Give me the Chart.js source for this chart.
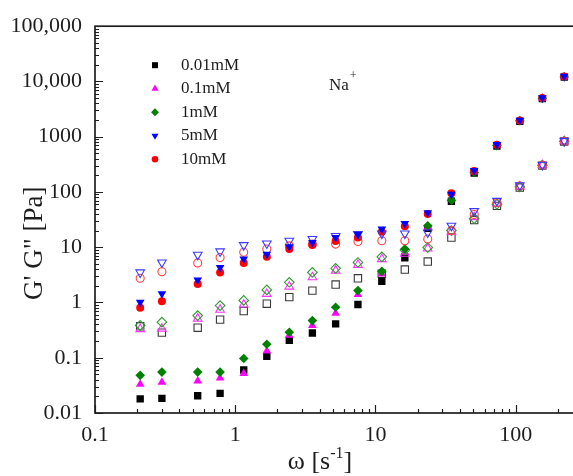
<!DOCTYPE html>
<html>
<head>
<meta charset="utf-8">
<script src="https://cdn.jsdelivr.net/npm/chart.js@4.4.1/dist/chart.umd.min.js"></script>
<style>
  html, body { margin: 0; padding: 0; background: #fff; overflow: hidden; }
  #wrap { width: 573px; height: 476px; overflow: hidden; }
  canvas { display: block; }
</style>
</head>
<body>
<div id="wrap"><canvas id="moduli" width="620" height="476"></canvas></div>
<script>
// angular frequency, s^-1
const omega = [0.21, 0.30, 0.54, 0.78, 1.15, 1.68, 2.43, 3.55, 5.2, 7.5, 11.1, 16.2, 23.6, 34.8, 50.6, 73.5, 107, 155, 222]

const concentrations = ['0.01mM', '0.1mM', '1mM', '5mM', '10mM']

// G' (storage) and G'' (loss) in Pa, one pair per NaCl concentration
const storage001 = [0.018, 0.0184, 0.0205, 0.0226, 0.060, 0.106, 0.207, 0.28, 0.41, 0.92, 2.42, 6.4, 22, 68, 220, 680, 1900, 4900, 12000]
const loss001 = [0.37, 0.285, 0.35, 0.49, 0.70, 0.95, 1.25, 1.64, 2.11, 2.74, 3.3, 3.94, 5.5, 15, 31, 56, 120, 300, 820]

const storage01 = [0.033, 0.036, 0.038, 0.043, 0.052, 0.133, 0.254, 0.385, 0.64, 1.39, 3.29, 8.1, 23, 75, 230, 700, 1950, 5000, 12200]
const loss01 = [0.33, 0.336, 0.51, 0.74, 0.92, 1.43, 1.94, 2.86, 3.77, 4.8, 6.1, 7.6, 9.5, 19, 35, 62, 126, 305, 830]

const storage1 = [0.048, 0.055, 0.055, 0.055, 0.097, 0.175, 0.29, 0.47, 0.82, 1.64, 3.66, 9.3, 24.4, 71, 225, 690, 1940, 4950, 12100]
const loss1 = [0.385, 0.44, 0.58, 0.88, 1.09, 1.69, 2.32, 3.5, 4.15, 5.3, 6.7, 8.9, 9.9, 20, 33, 60, 124, 304, 825]

const storage5 = [1.01, 1.44, 2.56, 4.3, 6.1, 7.5, 10.2, 12.2, 15, 17, 21.3, 26.8, 42, 91, 245, 720, 1980, 5050, 12400]
const loss5 = [3.5, 5.3, 7.3, 8.4, 10.9, 11.7, 13.1, 14.1, 16, 17.3, 17.7, 17.7, 18.5, 24.4, 45, 69, 132, 310, 840]

const storage10 = [0.80, 1.05, 2.17, 3.5, 5.2, 6.7, 9.3, 11, 13, 15, 19, 24, 40, 95, 240, 715, 1960, 5000, 12300]
const loss10 = [2.74, 3.6, 5.2, 6.5, 8.1, 9.3, 10.6, 11.4, 11.4, 12.7, 13.1, 13.1, 14.1, 20, 39, 64, 128, 306, 830]

const xTickValues = [0.1, 1, 10, 100]
const xTickLabels = ['0.1', '1', '10', '100']
const yTickValues = [0.01, 0.1, 1, 10, 100, 1000, 10000, 100000]
const yTickLabels = ['0.01', '0.1', '1', '10', '100', '1000', '10,000', '100,000']

const storageSets = [storage001, storage01, storage1, storage5, storage10]
const lossSets = [loss001, loss01, loss1, loss5, loss10]

// marker look per concentration; blue drawn on top, black at the bottom
const markers = [
  { color: '#000000', open: '#3a3a3a', pointStyle: 'rect', rotation: 0, radius: 5.2, order: 4 },
  { color: '#ff00ff', open: '#ff33ff', pointStyle: 'triangle', rotation: 0, radius: 5, order: 3 },
  { color: '#008000', open: '#2e9a2e', pointStyle: 'rectRot', rotation: 0, radius: 4.8, order: 2 },
  { color: '#0000ff', open: '#3a3aff', pointStyle: 'triangle', rotation: 180, radius: 5, order: 0 },
  { color: '#ff0000', open: '#ff4040', pointStyle: 'circle', rotation: 0, radius: 4, order: 1 }
]

const serif = '"Liberation Serif", "Times New Roman", serif'
const ink = '#1e1e1e'

const toPoints = (values) => omega.map((x, i) => ({ x, y: values[i] }))

const datasets = []
concentrations.forEach((label, i) => {
  const m = markers[i]
  datasets.push({
    label,
    data: toPoints(storageSets[i]),
    pointStyle: m.pointStyle,
    rotation: m.rotation,
    pointRadius: m.radius,
    backgroundColor: m.color,
    borderColor: m.color,
    borderWidth: 0,
    order: m.order
  })
  datasets.push({
    label: label + ' G"',
    data: toPoints(lossSets[i]),
    pointStyle: m.pointStyle,
    rotation: m.rotation,
    pointRadius: m.radius,
    backgroundColor: 'rgba(0,0,0,0)',
    borderColor: m.open,
    borderWidth: 1.1,
    order: m.order + 0.5
  })
})

// axis box with inward major/minor ticks on the log scales
const frameTicks = {
  id: 'frameTicks',
  afterDatasetsDraw (chart) {
    const { ctx, chartArea: a, scales: { x, y } } = chart
    ctx.save()
    ctx.strokeStyle = ink
    ctx.lineWidth = 1.2
    ctx.beginPath()
    for (let e = -2; e <= 5; e++) {
      for (let k = 1; k <= 9; k++) {
        const v = k * Math.pow(10, e)
        if (v > y.max * 1.0001) break
        const py = Math.round(y.getPixelForValue(v)) + 0.5
        ctx.moveTo(a.left, py)
        ctx.lineTo(a.left + (k === 1 ? 8 : 4), py)
      }
    }
    for (let e = -1; e <= 2; e++) {
      for (let k = 1; k <= 9; k++) {
        const v = k * Math.pow(10, e)
        if (v > x.max) break
        const px = Math.round(x.getPixelForValue(v)) + 0.5
        ctx.moveTo(px, a.bottom)
        ctx.lineTo(px, a.bottom - (k === 1 ? 8 : 4))
      }
    }
    ctx.stroke()
    ctx.lineWidth = 1.7
    ctx.strokeRect(a.left, a.top, a.right - a.left, a.bottom - a.top)
    ctx.restore()
  }
}

// legend for the filled (G') symbols, axis titles and the ion label
const annotations = {
  id: 'annotations',
  afterDraw (chart) {
    const { ctx, chartArea: a } = chart
    const draw = Chart.helpers.drawPoint
    ctx.save()
    ctx.fillStyle = ink
    ctx.textBaseline = 'middle'
    ctx.font = '17px ' + serif
    concentrations.forEach((label, i) => {
      const m = markers[i]
      const ly = a.top + 39 + i * 23.5
      ctx.fillStyle = m.color
      ctx.strokeStyle = m.color
      draw(ctx, { pointStyle: m.pointStyle, rotation: m.rotation, radius: m.radius * 0.82, borderWidth: 0 }, a.left + 60, ly)
      ctx.fillStyle = ink
      ctx.textAlign = 'left'
      ctx.fillText(label, a.left + 86, ly)
    })

    // Na+
    ctx.textBaseline = 'alphabetic'
    ctx.font = '17px ' + serif
    const naX = a.left + 234
    ctx.fillText('Na', naX, a.top + 64)
    const naW = ctx.measureText('Na').width
    ctx.font = '12px ' + serif
    ctx.fillText('+', naX + naW + 1, a.top + 53)

    // x title: ω [s-1]
    ctx.font = '26px ' + serif
    const head = 'ω [s'
    const tail = ']'
    const headW = ctx.measureText(head).width
    const tailW = ctx.measureText(tail).width
    ctx.font = '16px ' + serif
    const sup = '-1'
    const supW = ctx.measureText(sup).width
    const startX = 320 - (headW + supW + tailW) / 2
    const baseY = 469
    ctx.font = '26px ' + serif
    ctx.fillText(head, startX, baseY)
    ctx.font = '16px ' + serif
    ctx.fillText(sup, startX + headW, baseY - 11)
    ctx.font = '26px ' + serif
    ctx.fillText(tail, startX + headW + supW, baseY)

    // y title
    ctx.translate(35, a.top + 217)
    ctx.rotate(-Math.PI / 2)
    ctx.textAlign = 'center'
    ctx.textBaseline = 'middle'
    ctx.font = '27px ' + serif
    ctx.fillText('G\' G" [Pa]', 0, 0)
    ctx.restore()
  }
}

const ctx = document.getElementById('moduli').getContext('2d')

/* eslint-disable no-new */
new Chart(ctx, {
  type: 'scatter',
  data: { datasets },
  options: {
    responsive: false,
    animation: false,
    events: [],
    layout: { padding: { top: 24, right: 0, bottom: 0, left: 0 } },
    plugins: {
      legend: { display: false },
      tooltip: { enabled: false }
    },
    scales: {
      x: {
        type: 'logarithmic',
        min: 0.1,
        max: 500,
        position: 'bottom',
        grid: { display: false, drawTicks: false },
        border: { display: false },
        afterBuildTicks: (scale) => { scale.ticks = xTickValues.map(value => ({ value })) },
        afterFit: (scale) => { scale.height = 63 },
        ticks: {
          autoSkip: false,
          maxRotation: 0,
          padding: 9,
          color: ink,
          font: { family: serif, size: 22 },
          callback: (value, index) => xTickLabels[index]
        }
      },
      y: {
        type: 'logarithmic',
        min: 0.01,
        max: 100000,
        grid: { display: false, drawTicks: false },
        border: { display: false },
        afterBuildTicks: (scale) => { scale.ticks = yTickValues.map(value => ({ value })) },
        afterFit: (scale) => { scale.width = 95 },
        ticks: {
          autoSkip: false,
          padding: 13,
          color: ink,
          font: { family: serif, size: 22 },
          callback: (value, index) => yTickLabels[index]
        }
      }
    }
  },
  plugins: [frameTicks, annotations]
})
</script>
</body>
</html>
